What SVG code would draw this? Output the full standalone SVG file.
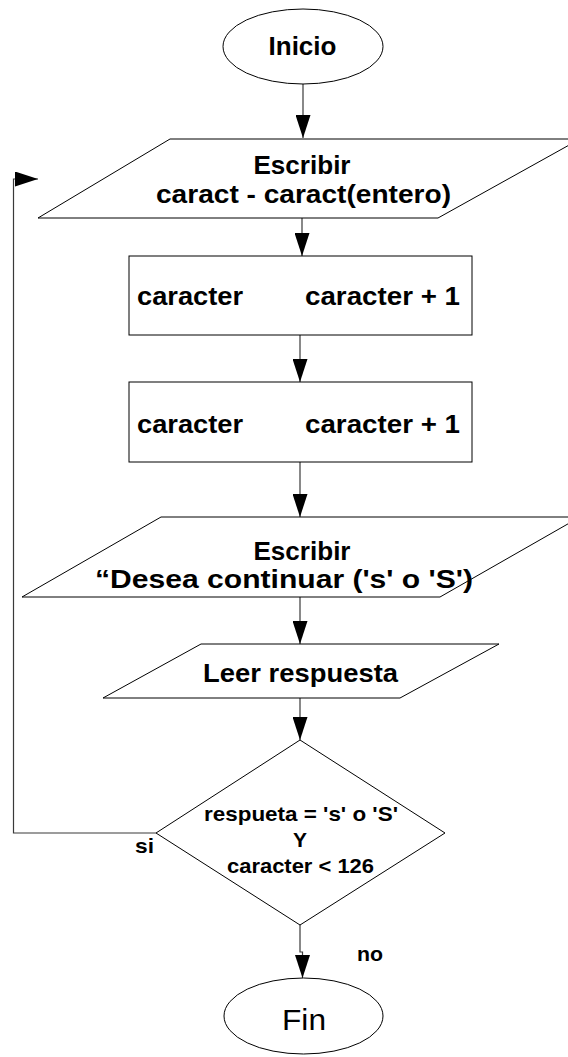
<svg xmlns="http://www.w3.org/2000/svg" width="568" height="1057" viewBox="0 0 568 1057">
  <style>
    .shape { fill: #ffffff; stroke: #000000; stroke-width: 1; }
    .conn { fill: none; stroke: #3a3a3a; stroke-width: 1.2; }
    .t { font-family: "Liberation Sans", Arial, sans-serif; font-weight: bold; font-size: 26px; fill: #000000; }
    .s { font-family: "Liberation Sans", Arial, sans-serif; font-weight: bold; font-size: 21px; fill: #000000; }
    .r { font-family: "Liberation Sans", Arial, sans-serif; font-weight: normal; font-size: 30px; fill: #000000; }
  </style>
  <defs>
    <marker id="arrow" viewBox="0 0 23 15" refX="23" refY="7.5" markerWidth="23" markerHeight="15" markerUnits="userSpaceOnUse" orient="auto">
      <path d="M0,0 L23,7.5 L0,15 Z" fill="#000000"/>
    </marker>
  </defs>
  <rect width="568" height="1057" fill="#ffffff"/>

  <!-- connectors -->
  <g id="connectors">
    <path class="conn" d="M303,84 V138" marker-end="url(#arrow)"/>
    <path class="conn" d="M302,218 V256" marker-end="url(#arrow)"/>
    <path class="conn" d="M300,335 V382" marker-end="url(#arrow)"/>
    <path class="conn" d="M300,462 V517" marker-end="url(#arrow)"/>
    <path class="conn" d="M300,597 V644" marker-end="url(#arrow)"/>
    <path class="conn" d="M300,698 V740" marker-end="url(#arrow)"/>
    <path class="conn" d="M156,833 H13.5 V179 H38" marker-end="url(#arrow)"/>
    <path class="conn" d="M300,925 V952 H302.5 V978" marker-end="url(#arrow)"/>
  </g>

  <!-- start terminal -->
  <g id="inicio">
    <ellipse class="shape" cx="303" cy="46.5" rx="80" ry="37.5"/>
    <text class="t" x="302.5" y="55" text-anchor="middle" textLength="68" lengthAdjust="spacingAndGlyphs">Inicio</text>
  </g>

  <!-- output: character line -->
  <g id="escribir1">
    <polygon class="shape" points="170,139 580,139 438,218 38,218"/>
    <text class="t" x="302" y="174" text-anchor="middle" textLength="97" lengthAdjust="spacingAndGlyphs">Escribir</text>
    <text class="t" x="156" y="203" textLength="295" lengthAdjust="spacingAndGlyphs">caract - caract(entero)</text>
  </g>

  <!-- assignment 1 -->
  <g id="asignar1">
    <rect class="shape" x="129" y="256" width="343" height="79"/>
    <text class="t" x="137" y="305" textLength="106" lengthAdjust="spacingAndGlyphs">caracter</text>
    <text class="t" x="305" y="305" textLength="155" lengthAdjust="spacingAndGlyphs">caracter + 1</text>
  </g>

  <!-- assignment 2 -->
  <g id="asignar2">
    <rect class="shape" x="129" y="382" width="343" height="80"/>
    <text class="t" x="137" y="433" textLength="106" lengthAdjust="spacingAndGlyphs">caracter</text>
    <text class="t" x="305" y="433" textLength="155" lengthAdjust="spacingAndGlyphs">caracter + 1</text>
  </g>

  <!-- output: prompt -->
  <g id="escribir2">
    <polygon class="shape" points="161,517 580,517 440,597 22,597"/>
    <text class="t" x="302" y="560" text-anchor="middle" textLength="97" lengthAdjust="spacingAndGlyphs">Escribir</text>
    <text class="t" x="95" y="588" textLength="378" lengthAdjust="spacingAndGlyphs">“Desea continuar ('s' o 'S')</text>
  </g>

  <!-- input -->
  <g id="leer">
    <polygon class="shape" points="201,644 499,644 400,698 103,698"/>
    <text class="t" x="203" y="682" textLength="195" lengthAdjust="spacingAndGlyphs">Leer respuesta</text>
  </g>

  <!-- decision -->
  <g id="decision">
    <polygon class="shape" points="300,740 445,833 300,925 156,833"/>
    <text class="s" x="204" y="821" textLength="194" lengthAdjust="spacingAndGlyphs">respueta = 's' o 'S'</text>
    <text class="s" x="300" y="847" text-anchor="middle">Y</text>
    <text class="s" x="227" y="873" textLength="147" lengthAdjust="spacingAndGlyphs">caracter &lt; 126</text>
    <text class="s" x="135" y="853" textLength="19" lengthAdjust="spacingAndGlyphs">si</text>
    <text class="s" x="357" y="961" textLength="26" lengthAdjust="spacingAndGlyphs">no</text>
  </g>

  <!-- end terminal -->
  <g id="fin">
    <ellipse class="shape" cx="303.5" cy="1016" rx="79.5" ry="38"/>
    <text class="r" x="282" y="1030" textLength="44" lengthAdjust="spacingAndGlyphs">Fin</text>
  </g>
</svg>
